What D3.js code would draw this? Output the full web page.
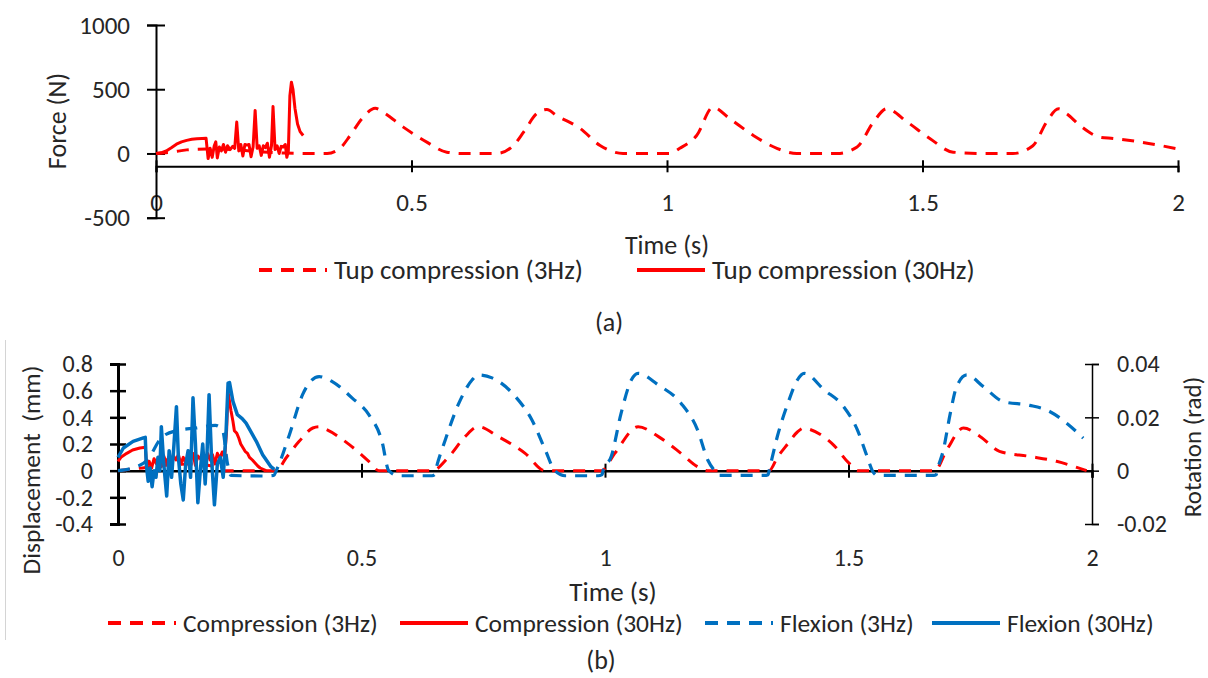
<!DOCTYPE html>
<html>
<head>
<meta charset="utf-8">
<script src="https://cdn.jsdelivr.net/npm/d3@7"></script>
<style>
body { margin: 0; background: #fff; }
text { font-family: Carlito, Lato, sans-serif; fill: #262626; }
</style>
</head>
<body>
<script>

/* DATA */

var timeTicks = [0, 0.5, 1, 1.5, 2];
var forceTicks = [-500, 0, 500, 1000];
var dispTicks = [-0.4, -0.2, 0, 0.2, 0.4, 0.6, 0.8];
var rotTicks = [-0.02, 0, 0.02, 0.04];

// (a) tup compression, 3Hz (dashed)
var forceTime3 = [0, 0.03, 0.06, 0.10, 0.15, 0.20, 0.25, 0.30, 0.335, 0.36, 0.38, 0.403, 0.429, 0.445, 0.484, 0.53, 0.569, 0.60,
  0.667, 0.699, 0.72, 0.745, 0.765, 0.784, 0.83, 0.869, 0.914, 0.96, 1.005, 1.025, 1.058, 1.09, 1.123, 1.169, 1.215, 1.254,
  1.30, 1.333, 1.372, 1.404, 1.43, 1.47, 1.515, 1.56, 1.62, 1.677, 1.716, 1.743, 1.766, 1.782, 1.808, 1.847, 1.873, 1.92, 1.998];
var forceVal3 = [0, 10, 28, 35, 30, 15, 3, 0, 0, 40, 140, 270, 352, 320, 205, 88, 10, 0,
  0, 60, 170, 310, 342, 295, 195, 62, 0, 0, 0, 40, 140, 360, 270, 140, 40, 0,
  0, 0, 50, 245, 348, 245, 115, 10, 0, 0, 60, 245, 348, 310, 218, 127, 117, 93, 37];

// (a) tup compression, 30Hz (solid)
var forceTime30 = [0, 0.01, 0.02, 0.03, 0.04, 0.05, 0.06, 0.07, 0.08, 0.09, 0.098, 0.102, 0.106, 0.11, 0.114, 0.117, 0.12,
  0.124, 0.128, 0.132, 0.136, 0.14, 0.145, 0.15, 0.154, 0.158, 0.162, 0.166, 0.17, 0.174, 0.178, 0.182, 0.186, 0.19, 0.194,
  0.198, 0.202, 0.206, 0.21, 0.214, 0.218, 0.222, 0.226, 0.229, 0.233, 0.237, 0.241, 0.245, 0.249, 0.253, 0.256, 0.259,
  0.262, 0.265, 0.268, 0.272, 0.277, 0.282, 0.288];
var forceVal30 = [0, 5, 20, 45, 72, 90, 102, 110, 114, 117, 118, -40, 40, -30, 60, 90, -35,
  50, 20, 70, 10, 60, 30, 55, 40, 245, 20, 70, -20, 70, 65, 70, -25, 50, 335,
  40, 60, -15, 60, 45, 80, -30, 60, 365, 30, 60, 0, 55, 50, 70, -30, 20,
  450, 555, 500, 350, 230, 170, 140];

// (b) compression in mm, 3Hz (dashed)
var compTime3 = [0, 0.05, 0.10, 0.15, 0.20, 0.22, 0.325, 0.345, 0.372, 0.40, 0.413, 0.427, 0.475, 0.515, 0.536,
  0.645, 0.68, 0.713, 0.74, 0.78, 0.836, 0.877, 0.993, 1.02, 1.068, 1.109, 1.156, 1.19, 1.21,
  1.337, 1.354, 1.375, 1.395, 1.409, 1.42, 1.47, 1.50, 1.52, 1.677, 1.702, 1.736, 1.77, 1.81, 1.872, 1.927, 1.989];
var compVal3 = [0, 0.02, 0.04, 0.05, 0.03, 0, 0, 0.095, 0.22, 0.32, 0.33, 0.31, 0.195, 0.07, 0,
  0, 0.107, 0.257, 0.33, 0.257, 0.13, 0, 0, 0.13, 0.33, 0.257, 0.13, 0.03, 0,
  0, 0.1, 0.2, 0.29, 0.32, 0.31, 0.19, 0.06, 0, 0, 0.157, 0.32, 0.257, 0.145, 0.107, 0.07, 0];

// (b) compression in mm, 30Hz (solid)
var compTime30 = [0, 0.006, 0.018, 0.03, 0.045, 0.056, 0.059, 0.064, 0.069, 0.074, 0.079, 0.084, 0.089, 0.094, 0.099,
  0.104, 0.109, 0.114, 0.119, 0.124, 0.129, 0.134, 0.139, 0.144, 0.149, 0.154, 0.159, 0.164, 0.169, 0.174, 0.179,
  0.184, 0.189, 0.194, 0.199, 0.204, 0.209, 0.214, 0.219, 0.223, 0.226, 0.232, 0.236, 0.239, 0.244, 0.248, 0.252,
  0.257, 0.261, 0.266, 0.270, 0.276, 0.281, 0.287, 0.292, 0.298, 0.304];
var compVal30 = [0.07, 0.1, 0.13, 0.155, 0.17, 0.175, 0.03, 0.07, 0.02, 0.09, 0.05, 0.1, 0.03, 0.11, 0.06,
  0.1, 0.04, 0.11, 0.08, 0.12, 0.05, 0.1, 0.06, 0.12, 0.08, 0.13, 0.04, 0.11, 0.09, 0.12, 0.06,
  0.13, 0.08, 0.12, 0.05, 0.13, 0.09, 0.14, 0.1, 0.3, 0.59, 0.45, 0.37, 0.30, 0.28, 0.245, 0.2,
  0.17, 0.145, 0.13, 0.1, 0.08, 0.06, 0.035, 0.02, 0.01, 0];

// (b) flexion in rad, 3Hz (dashed)
var flexTime3 = [0, 0.03, 0.06, 0.09, 0.12, 0.16, 0.20, 0.215, 0.225, 0.232, 0.30, 0.320, 0.325, 0.352, 0.379, 0.413,
  0.44, 0.481, 0.515, 0.542, 0.556, 0.577, 0.645, 0.650, 0.652, 0.672, 0.70, 0.727, 0.74, 0.768, 0.816, 0.85, 0.877,
  0.897, 0.918, 0.986, 0.994, 0.996, 1.013, 1.033, 1.054, 1.068, 1.109, 1.156, 1.19, 1.211, 1.225, 1.235, 1.327,
  1.335, 1.337, 1.354, 1.375, 1.395, 1.409, 1.45, 1.49, 1.518, 1.538, 1.549, 1.559, 1.675, 1.68, 1.682, 1.695,
  1.709, 1.722, 1.743, 1.777, 1.818, 1.872, 1.913, 1.948, 1.982];
var flexVal3 = [0, 0.001, 0.004, 0.0125, 0.015, 0.016, 0.017, 0.015, 0.0025, -0.0018, -0.002, -0.0018, 0, 0.0135, 0.0285, 0.0353,
  0.0334, 0.0272, 0.021, 0.011, 0, -0.0019, -0.0019, -0.0015, 0, 0.0115, 0.0253, 0.034, 0.0359, 0.0348, 0.0278, 0.019, 0.0079,
  0, -0.0019, -0.0019, -0.0015, 0, 0.0054, 0.0215, 0.034, 0.0365, 0.0322, 0.0253, 0.0153, 0.004, 0, -0.0018, -0.0018,
  -0.0015, 0, 0.0129, 0.025, 0.034, 0.0365, 0.0303, 0.024, 0.0154, 0.0054, 0, -0.0018, -0.0018, -0.0015, 0, 0.0079,
  0.0215, 0.0315, 0.0359, 0.0315, 0.0259, 0.0245, 0.0222, 0.0178, 0.0122];

// (b) flexion in rad, 30Hz (solid)
var flexTime30 = [0, 0.011, 0.031, 0.052, 0.056, 0.058, 0.062, 0.066, 0.070, 0.074, 0.078, 0.082, 0.086, 0.089, 0.094,
  0.100, 0.105, 0.110, 0.115, 0.120, 0.124, 0.129, 0.134, 0.139, 0.144, 0.149, 0.154, 0.159, 0.164, 0.169, 0.174,
  0.179, 0.183, 0.187, 0.192, 0.198, 0.204, 0.210, 0.216, 0.222, 0.226, 0.229, 0.236, 0.245, 0.255, 0.263, 0.284,
  0.297, 0.314, 0.321];
var flexVal30 = [0.005, 0.0085, 0.011, 0.0123, 0.0125, 0.0025, -0.004, 0.001, -0.006, 0, -0.0025, 0.005, 0, 0.0165, 0.0025,
  -0.0095, 0.0075, -0.0025, 0.01, 0.024, 0.005, -0.005, -0.011, 0.0025, 0.0075, -0.0025, 0.0273, 0.01, -0.012, 0, 0.01,
  -0.005, 0.0075, 0.0285, 0.005, -0.0128, 0.0025, 0.005, -0.0025, 0.015, 0.0328, 0.033, 0.026, 0.021, 0.0195, 0.0178, 0.011,
  0.006, 0.0015, 0.0005];

function zip(ts, vs) { return ts.map(function(t, i) { return [t, vs[i]]; }); }

/* CHART */

var red = "#ff0000", blue = "#0070c0";

var svg = d3.select("body").append("svg")
  .attr("width", 1208).attr("height", 678);

function crossTicksY(g, size) {
  g.selectAll(".tick line").attr("x1", -size).attr("x2", size).attr("stroke", "#000");
}
function crossTicksX(g, size) {
  g.selectAll(".tick line").attr("y1", -size).attr("y2", size).attr("stroke", "#000");
}

/* (a) force */

var xA = d3.scaleLinear().domain([0, 2]).range([156, 1178]);
var yA = d3.scaleLinear().domain([-500, 1000]).range([217.7, 25]);

var gA = svg.append("g");

gA.append("g")
  .attr("transform", "translate(0," + yA(-100) + ")")
  .call(d3.axisBottom(xA).tickValues(timeTicks).tickFormat(String).tickSizeOuter(0).tickSize(6))
  .call(function(g) {
    g.select(".domain").attr("stroke", "#000").attr("stroke-width", 2);
    crossTicksX(g, 6);
    g.selectAll(".tick line").attr("stroke-width", 2);
    g.selectAll(".tick text").attr("y", 36).attr("dy", "0.35em").attr("font-size", 25);
    g.attr("font-family", null);
  });

gA.append("g")
  .attr("transform", "translate(" + xA(0) + ",0)")
  .call(d3.axisLeft(yA).tickValues(forceTicks).tickFormat(String).tickSizeOuter(0).tickSize(9).tickPadding(17))
  .call(function(g) {
    g.select(".domain").attr("stroke", "#000").attr("stroke-width", 2);
    crossTicksY(g, 9);
    g.selectAll(".tick line").attr("stroke-width", 2);
    g.selectAll(".tick text").attr("font-size", 25);
    g.attr("font-family", null);
  });

var lineA = d3.line().x(function(d) { return xA(d[0]); }).y(function(d) { return yA(d[1]); });

gA.append("path")
  .datum(zip(forceTime3, forceVal3))
  .attr("fill", "none").attr("stroke", red).attr("stroke-width", 3)
  .attr("stroke-dasharray", "12,9")
  .attr("d", lineA.curve(d3.curveMonotoneX));

gA.append("path")
  .datum(zip(forceTime30, forceVal30))
  .attr("fill", "none").attr("stroke", red).attr("stroke-width", 3)
  .attr("stroke-linejoin", "round")
  .attr("d", d3.line().x(function(d) { return xA(d[0]); }).y(function(d) { return yA(d[1]); }));

gA.append("text").attr("transform", "translate(57,121) rotate(-90)")
  .attr("text-anchor", "middle").attr("dy", "0.35em").attr("font-size", 26).text("Force (N)");

gA.append("text").attr("x", 667).attr("y", 245).attr("dy", "0.35em")
  .attr("text-anchor", "middle").attr("font-size", 26).text("Time (s)");

/* (b) displacement / rotation */

var xB = d3.scaleLinear().domain([0, 2]).range([118, 1092]);
var yB = d3.scaleLinear().domain([-0.4, 0.8]).range([524, 364]);
var yR = d3.scaleLinear().domain([-0.02, 0.04]).range([524, 364]);

var gB = svg.append("g");

gB.append("line").attr("x1", 5.5).attr("x2", 5.5).attr("y1", 340).attr("y2", 640)
  .attr("stroke", "#d4d4d4").attr("stroke-width", 1);

gB.append("g")
  .attr("transform", "translate(0," + yB(0) + ")")
  .call(d3.axisBottom(xB).tickValues(timeTicks).tickFormat(String).tickSizeOuter(0).tickSize(7))
  .call(function(g) {
    g.select(".domain").attr("stroke", "#000").attr("stroke-width", 2.5);
    crossTicksX(g, 7);
    g.selectAll(".tick line").attr("stroke-width", 2);
    g.selectAll(".tick text").attr("y", 87).attr("dy", "0.35em").attr("font-size", 24);
    g.attr("font-family", null);
  });

gB.append("g")
  .attr("transform", "translate(" + xB(0) + ",0)")
  .call(d3.axisLeft(yB).tickValues(dispTicks).tickFormat(String).tickSizeOuter(0).tickSize(8).tickPadding(17))
  .call(function(g) {
    g.select(".domain").attr("stroke", "#000").attr("stroke-width", 3);
    crossTicksY(g, 8);
    g.selectAll(".tick line").attr("stroke-width", 2.5);
    g.selectAll(".tick text").attr("font-size", 24);
    g.attr("font-family", null);
  });

gB.append("g")
  .attr("transform", "translate(" + xB(2) + ",0)")
  .call(d3.axisRight(yR).tickValues(rotTicks).tickFormat(String).tickSizeOuter(0).tickSize(7).tickPadding(18))
  .call(function(g) {
    g.select(".domain").attr("stroke", "#000").attr("stroke-width", 1.5);
    crossTicksY(g, 7);
    g.selectAll(".tick line").attr("stroke-width", 1.5);
    g.selectAll(".tick text").attr("font-size", 24);
    g.attr("font-family", null);
  });

var lineB = d3.line().x(function(d) { return xB(d[0]); }).y(function(d) { return yB(d[1]); });
var lineR = d3.line().x(function(d) { return xB(d[0]); }).y(function(d) { return yR(d[1]); });

gB.append("path").datum(zip(compTime3, compVal3))
  .attr("fill", "none").attr("stroke", red).attr("stroke-width", 3)
  .attr("stroke-dasharray", "12,9")
  .attr("d", lineB.curve(d3.curveMonotoneX));

gB.append("path").datum(zip(flexTime3, flexVal3))
  .attr("fill", "none").attr("stroke", blue).attr("stroke-width", 3.2)
  .attr("stroke-dasharray", "12,9")
  .attr("d", lineR.curve(d3.curveMonotoneX));

gB.append("path").datum(zip(compTime30, compVal30))
  .attr("fill", "none").attr("stroke", red).attr("stroke-width", 3)
  .attr("stroke-linejoin", "round")
  .attr("d", d3.line().x(function(d) { return xB(d[0]); }).y(function(d) { return yB(d[1]); }));

gB.append("path").datum(zip(flexTime30, flexVal30))
  .attr("fill", "none").attr("stroke", blue).attr("stroke-width", 3.5)
  .attr("stroke-linejoin", "round")
  .attr("d", d3.line().x(function(d) { return xB(d[0]); }).y(function(d) { return yR(d[1]); }));

gB.append("text").attr("transform", "translate(31,470) rotate(-90)")
  .attr("text-anchor", "middle").attr("dy", "0.35em").attr("font-size", 25.5)
  .attr("xml:space", "preserve").text("Displacement  (mm)");

gB.append("text").attr("transform", "translate(1192,447) rotate(-90)")
  .attr("text-anchor", "middle").attr("dy", "0.35em").attr("font-size", 25).text("Rotation (rad)");

gB.append("text").attr("x", 613).attr("y", 592).attr("dy", "0.35em")
  .attr("text-anchor", "middle").attr("font-size", 27).text("Time (s)");

/* LEGENDS */

var legendA = [
  {label: "Tup compression (3Hz)", color: red, dash: "13,9", x: 259, y: 270, size: 27},
  {label: "Tup compression (30Hz)", color: red, dash: null, x: 637, y: 270, size: 27}
];
var legendB = [
  {label: "Compression (3Hz)", color: red, dash: "13,9", x: 108, y: 623, size: 25.5},
  {label: "Compression (30Hz)", color: red, dash: null, x: 400, y: 623, size: 25.5},
  {label: "Flexion (3Hz)", color: blue, dash: "13,9", x: 705, y: 623, size: 25.5},
  {label: "Flexion (30Hz)", color: blue, dash: null, x: 932, y: 623, size: 25.5}
];

var leg = svg.selectAll(".leg").data(legendA.concat(legendB)).enter()
  .append("g").attr("class", "leg")
  .attr("transform", function(d) { return "translate(" + d.x + "," + d.y + ")"; });

leg.append("line").attr("x1", 0).attr("x2", 68).attr("y1", 0).attr("y2", 0)
  .attr("stroke", function(d) { return d.color; }).attr("stroke-width", 4)
  .attr("stroke-dasharray", function(d) { return d.dash; });

leg.append("text").attr("x", 75).attr("dy", "0.35em")
  .attr("font-size", function(d) { return d.size; })
  .text(function(d) { return d.label; });

svg.append("text").attr("x", 609).attr("y", 322).attr("dy", "0.35em")
  .attr("text-anchor", "middle").attr("font-size", 26).text("(a)");
svg.append("text").attr("x", 601).attr("y", 660).attr("dy", "0.35em")
  .attr("text-anchor", "middle").attr("font-size", 26).text("(b)");

</script>
</body>
</html>
